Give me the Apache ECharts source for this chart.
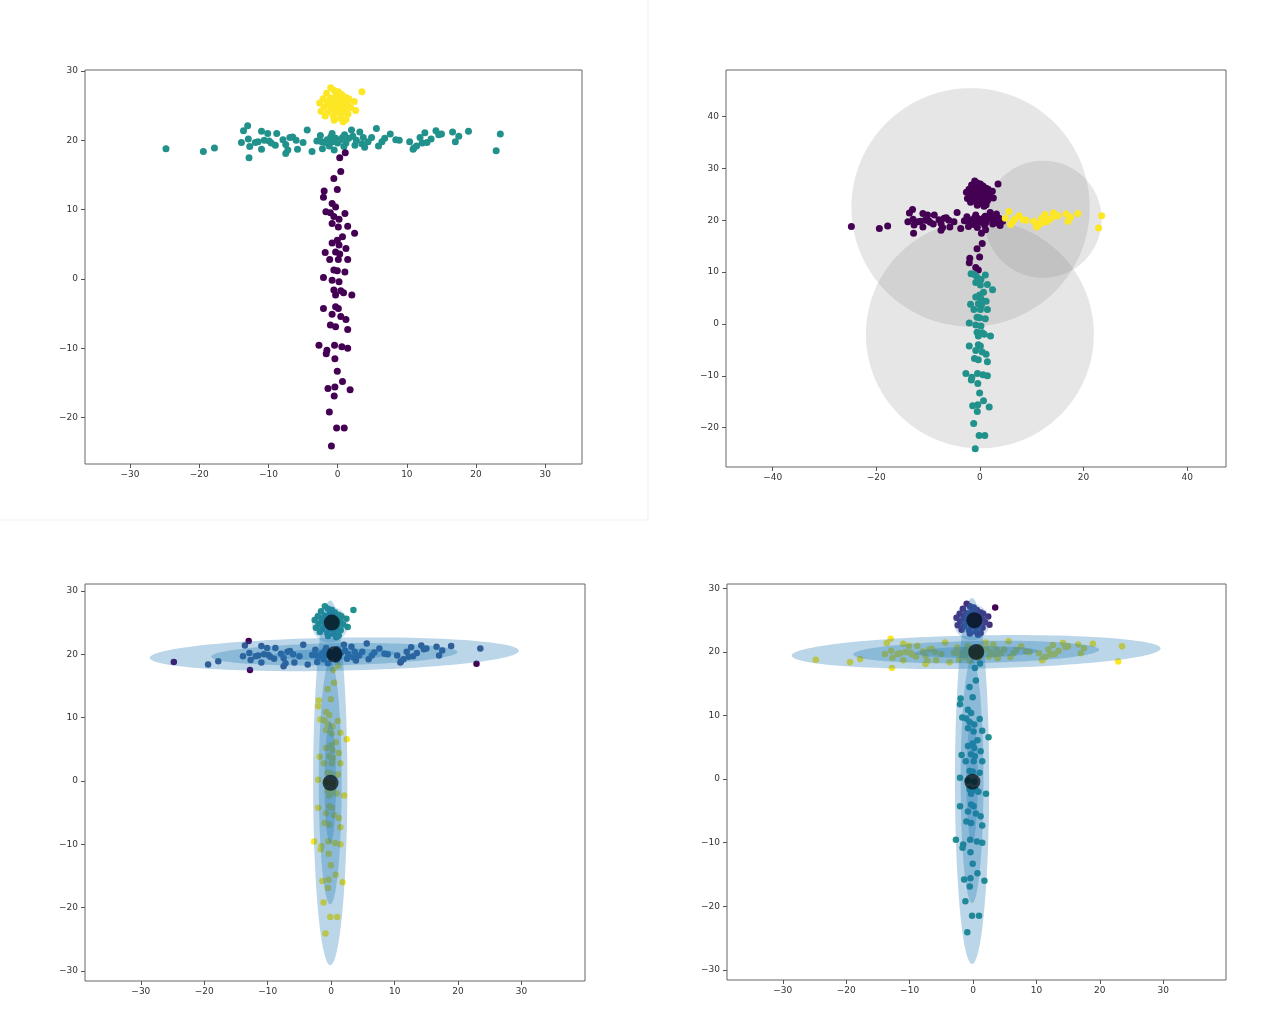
<!DOCTYPE html>
<html>
<head>
<meta charset="utf-8">
<script src="https://cdn.jsdelivr.net/npm/echarts@6/dist/echarts.min.js"></script>
<style>
  html, body { margin: 0; background: #fff; }
  #main { width: 1280px; height: 1027px; }
</style>
</head>
<body>
<div id="main"></div>
<script>
// points (same data set in all four panels)
var barH = [
  [-24.8, 18.8], [-19.4, 18.4], [-17.8, 18.9], [-13.9, 19.7], [-13.6, 21.4], [-13.0, 22.1],
  [-12.9, 20.2], [-12.8, 17.5], [-12.7, 19.1], [-11.9, 19.7], [-11.5, 19.8], [-11.0, 21.3],
  [-11.0, 18.7], [-10.6, 20.0], [-10.1, 21.0], [-9.9, 19.9], [-9.6, 19.6], [-9.0, 19.3],
  [-8.8, 21.0], [-7.9, 20.1], [-7.5, 19.4], [-7.5, 18.1], [-7.2, 18.6], [-6.9, 20.4],
  [-6.5, 20.5], [-6.0, 20.0], [-5.8, 18.7], [-5.0, 19.7], [-4.4, 21.5], [-3.7, 18.4],
  [-3.0, 19.9], [-2.5, 20.7], [-2.3, 19.8], [-2.2, 18.8], [-1.8, 19.7], [-1.5, 20.1],
  [-1.2, 19.2], [-1.0, 20.5], [-0.8, 21.0], [-0.7, 19.8], [-0.5, 18.6], [-0.3, 20.3],
  [0.0, 19.6], [0.3, 20.0], [0.7, 20.4], [0.9, 19.1], [1.0, 20.8], [1.2, 19.6],
  [1.6, 20.3], [2.0, 21.5], [2.2, 20.6], [2.5, 19.3], [2.7, 20.0], [3.2, 21.2],
  [3.5, 19.5], [3.7, 20.4], [3.9, 19.0], [4.4, 19.8], [4.9, 20.4], [5.6, 21.7],
  [5.9, 19.2], [6.4, 19.8], [6.8, 20.3], [7.6, 20.9], [8.4, 20.1], [8.9, 20.0],
  [10.4, 19.8], [10.9, 18.7], [11.0, 18.9], [11.4, 19.2], [11.9, 20.4], [12.2, 19.6],
  [12.6, 21.1], [12.9, 19.7], [13.5, 20.2], [14.2, 21.4], [14.6, 20.8], [15.0, 20.9],
  [16.6, 21.2], [17.0, 19.8], [17.5, 20.6], [18.9, 21.3], [22.9, 18.5], [23.5, 20.9]
];
var barV = [
  [1.1, 18.2], [0.3, 17.5], [0.45, 15.5], [-0.55, 14.5], [-0.05, 12.9], [-1.95, 12.7],
  [-2.05, 11.8], [-0.8, 10.9], [-0.3, 10.4], [-1.7, 9.7], [-1.05, 9.55], [1.05, 9.45],
  [-0.55, 9.0], [0.2, 8.6], [-0.8, 8.0], [1.45, 7.6], [0.1, 7.5], [2.45, 6.6],
  [0.7, 6.1], [-0.05, 5.6], [-0.8, 5.2], [0.2, 4.9], [1.2, 4.4], [-1.8, 3.8],
  [-0.3, 3.9], [0.3, 3.6], [-1.15, 2.8], [1.45, 2.8], [0.1, 2.8], [-0.55, 1.3],
  [-0.05, 1.2], [1.05, 1.0], [-2.05, 0.2], [-0.8, -0.2], [0.2, -0.4], [-0.55, -1.6],
  [0.45, -1.7], [0.85, -2.0], [2.05, -2.3], [-0.3, -2.3], [-2.05, -4.25], [-0.3, -4.0],
  [0.1, -4.25], [-0.8, -5.1], [0.45, -5.4], [1.2, -5.85], [-1.05, -6.65], [-0.3, -6.9],
  [1.45, -7.3], [-0.45, -9.55], [-2.7, -9.55], [0.6, -9.8], [-1.55, -10.3], [1.45, -10.0],
  [-1.65, -10.8], [-0.4, -11.5], [-0.05, -13.3], [-1.4, -15.8], [-0.4, -15.6], [0.7, -14.8],
  [1.8, -16.0], [-0.5, -16.9], [-1.2, -19.2], [-0.15, -21.5], [0.95, -21.5], [-0.9, -24.1]
];
var blob = [
  [-1.0, 27.6], [-0.5, 27.2], [0.1, 27.0], [3.5, 27.0], [-1.6, 26.8], [-0.2, 26.5],
  [0.6, 26.6], [1.2, 26.2], [-2.1, 26.0], [-1.0, 26.1], [0.0, 25.9], [0.9, 25.7],
  [2.4, 25.6], [-2.6, 25.4], [-1.5, 25.3], [-0.6, 25.4], [0.4, 25.2], [1.5, 25.1],
  [-2.0, 24.8], [-1.0, 24.7], [0.0, 24.6], [1.0, 24.5], [1.9, 24.7], [-2.4, 24.2],
  [-1.4, 24.0], [-0.4, 24.1], [0.6, 23.9], [2.6, 24.3], [1.5, 23.8], [-1.8, 23.5],
  [-0.6, 23.4], [0.4, 23.2], [1.2, 23.0], [-0.5, 22.9], [0.8, 22.7], [-1.2, 25.8],
  [1.6, 26.0], [0.2, 24.0], [-0.3, 25.0], [0.9, 24.9]
];

// panel 2: k-means split
var km2SplitX = 4.7;     // horizontal bar: purple left of this, yellow right
var km2SplitY = 10.2;    // vertical bar: purple above this, teal below
var circleCenters = [[-1.8, 22.5], [12.2, 20.2], [0.0, -2.0]];
var circleRadii = [23.0, 11.3, 22.0];

// panels 3/4: gaussian mixture components
var gmmMeans = [[0.5, 20.0], [-0.15, -0.3], [-0.2, 24.7]];
var gmmSigmas = [[9.7, 0.87], [0.9, 9.6], [0.95, 0.95]];
var gmmAngles = [1.1, 0, 0];
var gmmAlpha = [0.3, 0.3, 0.22];
var centers3 = [[0.1, 25.0], [0.5, 20.0], [-0.1, -0.3]];
var centers4 = [[0.2, 25.0], [0.5, 20.0], [-0.1, -0.4]];
var outliers3 = [[-24.8, 18.8], [-13.0, 22.1], [-12.8, 17.5], [22.9, 18.5]];
var outlier4 = [[3.5, 27.0]];

var PURPLE = "#440154", BLUE = "#3b528b", TEAL = "#21918c", YELLOW = "#fde725", INDIGO = "#472d7b";

var chart = echarts.init(document.getElementById("main"));

function fmt(v) {
  return String(v).replace("-", "\u2212");
}

function isIn(p, list) {
  for (var i = 0; i < list.length; i++) {
    if (list[i][0] === p[0] && list[i][1] === p[1]) return true;
  }
  return false;
}

function axis(i, min, max, ticks, margin) {
  return {
    gridIndex: i, type: "value", min: min, max: max,
    axisLine: { show: false, onZero: false }, splitLine: { show: false },
    axisTick: { show: true, customValues: ticks, length: 4, lineStyle: { color: "#555" } },
    axisLabel: { customValues: ticks, fontSize: 9, color: "#333", margin: margin, fontFamily: "DejaVu Sans", formatter: fmt }
  };
}

function scatter(i, pts, color, size, z) {
  return {
    type: "scatter", xAxisIndex: i, yAxisIndex: i, data: pts,
    symbolSize: size, itemStyle: { color: color, opacity: 1 }, z: z, silent: true
  };
}

// ellipse / circle outline drawn through the axis scales
function ellipseSeries(i, items, z) {
  return {
    type: "custom", xAxisIndex: i, yAxisIndex: i, z: z, silent: true, clip: true,
    data: items,
    renderItem: function (params, api) {
      var cx = api.value(0), cy = api.value(1), a = api.value(2), b = api.value(3);
      var ang = api.value(4) * Math.PI / 180;
      var pts = [];
      for (var k = 0; k < 120; k++) {
        var t = k / 120 * 2 * Math.PI;
        var dx = a * Math.cos(t), dy = b * Math.sin(t);
        pts.push(api.coord([cx + dx * Math.cos(ang) - dy * Math.sin(ang),
                            cy + dx * Math.sin(ang) + dy * Math.cos(ang)]));
      }
      return { type: "polygon", shape: { points: pts }, style: { fill: api.value(5) === 0 ? "rgba(128,128,128,0.2)" : "rgba(31,119,180," + api.value(5) + ")" } };
    }
  };
}

var gmmItems = [];
for (var c = 0; c < gmmMeans.length; c++) {
  for (var n = 1; n <= 3; n++) {
    gmmItems.push([gmmMeans[c][0], gmmMeans[c][1], n * gmmSigmas[c][0], n * gmmSigmas[c][1], gmmAngles[c], gmmAlpha[c]]);
  }
}
var circleItems = [];
for (var j = 0; j < circleCenters.length; j++) {
  circleItems.push([circleCenters[j][0], circleCenters[j][1], circleRadii[j], circleRadii[j], 0, 0]);
}

// panel 2 groups
var p2Purple = [], p2Yellow = [], p2Teal = [];
barH.forEach(function (p) { (p[0] > km2SplitX ? p2Yellow : p2Purple).push(p); });
barV.forEach(function (p) { (p[1] > km2SplitY ? p2Purple : p2Teal).push(p); });
blob.forEach(function (p) { p2Purple.push(p); });

var p3Blue = barH.filter(function (p) { return !isIn(p, outliers3); });
var p3Purple = barH.filter(function (p) { return isIn(p, outliers3); });
var p4Indigo = blob.filter(function (p) { return !isIn(p, outlier4); });

var t30 = [-30, -20, -10, 0, 10, 20, 30];

var option = {
  backgroundColor: "#fff",
  animation: false,
  grid: [
    { left: 85, top: 70, width: 497, height: 394, show: true, borderColor: "#666", borderWidth: 1 },
    { left: 726, top: 70, width: 500, height: 397, show: true, borderColor: "#666", borderWidth: 1 },
    { left: 85, top: 584, width: 500, height: 397, show: true, borderColor: "#666", borderWidth: 1 },
    { left: 727, top: 584, width: 499, height: 396, show: true, borderColor: "#666", borderWidth: 1 }
  ],
  xAxis: [
    axis(0, -36.5, 35.3, t30, 6),
    axis(1, -49, 47.5, [-40, -20, 0, 20, 40], 6),
    axis(2, -38.8, 40.0, t30, 6),
    axis(3, -38.8, 39.9, t30, 6)
  ],
  yAxis: [
    axis(0, -26.7, 30.15, [-20, -10, 0, 10, 20, 30], 7),
    axis(1, -27.6, 49, [-20, -10, 0, 10, 20, 30, 40], 7),
    axis(2, -31.6, 31.1, t30, 7),
    axis(3, -31.6, 30.7, t30, 7)
  ],
  graphic: [
    { type: "line", shape: { x1: 648, y1: 0, x2: 648, y2: 520 }, style: { stroke: "#f1f1f1", lineWidth: 1 } },
    { type: "line", shape: { x1: 0, y1: 520, x2: 648, y2: 520 }, style: { stroke: "#f1f1f1", lineWidth: 1 } }
  ],
  series: [
    // panel 1
    scatter(0, barH, TEAL, 7, 2),
    scatter(0, barV, PURPLE, 7, 2),
    scatter(0, blob, YELLOW, 7, 2),
    // panel 2
    ellipseSeries(1, circleItems, 1),
    scatter(1, p2Purple, PURPLE, 7, 2),
    scatter(1, p2Yellow, YELLOW, 7, 2),
    scatter(1, p2Teal, TEAL, 7, 2),
    // panel 3
    scatter(2, p3Blue, BLUE, 6.5, 1),
    scatter(2, p3Purple, PURPLE, 6.5, 1),
    scatter(2, barV, YELLOW, 6.5, 1),
    scatter(2, blob, TEAL, 6.5, 1),
    ellipseSeries(2, gmmItems, 2),
    scatter(2, centers3, "rgba(0,0,0,0.68)", 16, 3),
    // panel 4
    scatter(3, barH, YELLOW, 6.5, 1),
    scatter(3, barV, TEAL, 6.5, 1),
    scatter(3, p4Indigo, INDIGO, 6.5, 1),
    scatter(3, outlier4, PURPLE, 6.5, 1),
    ellipseSeries(3, gmmItems, 2),
    scatter(3, centers4, "rgba(0,0,0,0.68)", 16, 3)
  ]
};

chart.setOption(option);
</script>
</body>
</html>
